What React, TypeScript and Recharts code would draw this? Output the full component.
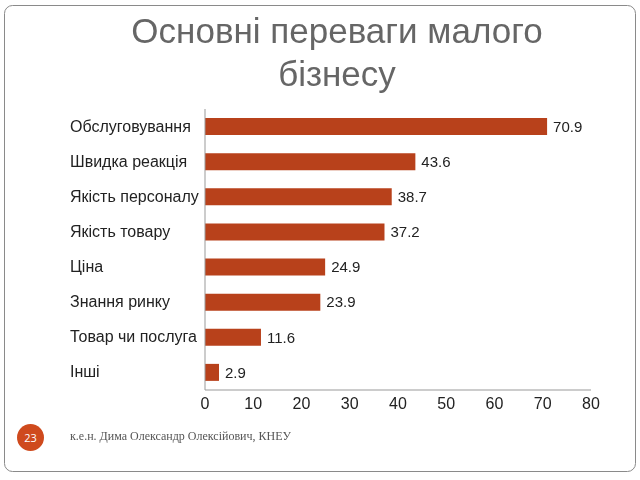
import { BarChart, Bar, XAxis, YAxis, LabelList } from "recharts";

const categories = [
  "Обслуговування",
  "Швидка реакція",
  "Якість персоналу",
  "Якість товару",
  "Ціна",
  "Знання ринку",
  "Товар чи послуга",
  "Інші",
];
const values = [70.9, 43.6, 38.7, 37.2, 24.9, 23.9, 11.6, 2.9];
const xTicks = [0, 10, 20, 30, 40, 50, 60, 70, 80];

const data = categories.map((name, i) => ({ name, value: values[i] }));

const font = "'Liberation Sans', Arial, sans-serif";

function CategoryTick(props: any) {
  const { y, payload } = props;
  return (
    <text x={70} y={y} dy={5} textAnchor="start" fontSize={16} fill="#222" fontFamily={font}>
      {payload.value}
    </text>
  );
}

export default function App() {
  return (
    <div style={{ position: "fixed", left: 0, top: 0, width: 640, height: 480, background: "#fff" }}>
      {/* рамка слайда */}
      <svg width={640} height={480} style={{ position: "absolute", left: 0, top: 0 }}>
        <rect x={4.5} y={5.5} width={631} height={466} rx={8} fill="none" stroke="#8a8a8a" strokeWidth={1} />
      </svg>

      <div
        style={{
          position: "absolute",
          left: 0,
          top: 9,
          width: 674,
          textAlign: "center",
          fontFamily: font,
          fontSize: 35,
          lineHeight: "43px",
          color: "#666",
        }}
      >
        Основні переваги малого
        <br />
        бізнесу
      </div>

      <div style={{ position: "absolute", left: 0, top: 0 }}>
        <BarChart
          width={640}
          height={480}
          data={data}
          layout="vertical"
          margin={{ top: 109, right: 49, bottom: 60, left: 0 }}
          barSize={17}
        >
          <XAxis
            type="number"
            domain={[0, 80]}
            ticks={xTicks}
            tickLine={false}
            axisLine={{ stroke: "#999" }}
            height={30}
            tick={{ fontSize: 16, fill: "#222", fontFamily: font }}
            interval={0}
          />
          <YAxis
            type="category"
            dataKey="name"
            width={205}
            tickLine={false}
            axisLine={{ stroke: "#999" }}
            tick={<CategoryTick />}
            interval={0}
          />
          <Bar dataKey="value" fill="#B8411B" isAnimationActive={false}>
            <LabelList
              dataKey="value"
              position="right"
              offset={6}
              formatter={(v: any) => Number(v).toFixed(1)}
              style={{ fontSize: 15, fill: "#222", fontFamily: font }}
            />
          </Bar>
        </BarChart>
      </div>

      <div
        style={{
          position: "absolute",
          left: 17,
          top: 424,
          width: 27,
          height: 27,
          borderRadius: "50%",
          background: "#CF4A1D",
          color: "#fff",
          fontFamily: "'Open Sans', sans-serif",
          fontSize: 11,
          lineHeight: "27px",
          textAlign: "center",
        }}
      >
        23
      </div>
      <div
        style={{
          position: "absolute",
          left: 70,
          top: 429,
          fontFamily: "'Liberation Serif', 'Times New Roman', serif",
          fontSize: 12,
          color: "#555",
        }}
      >
        к.е.н. Дима Олександр Олексійович, КНЕУ
      </div>
    </div>
  );
}
